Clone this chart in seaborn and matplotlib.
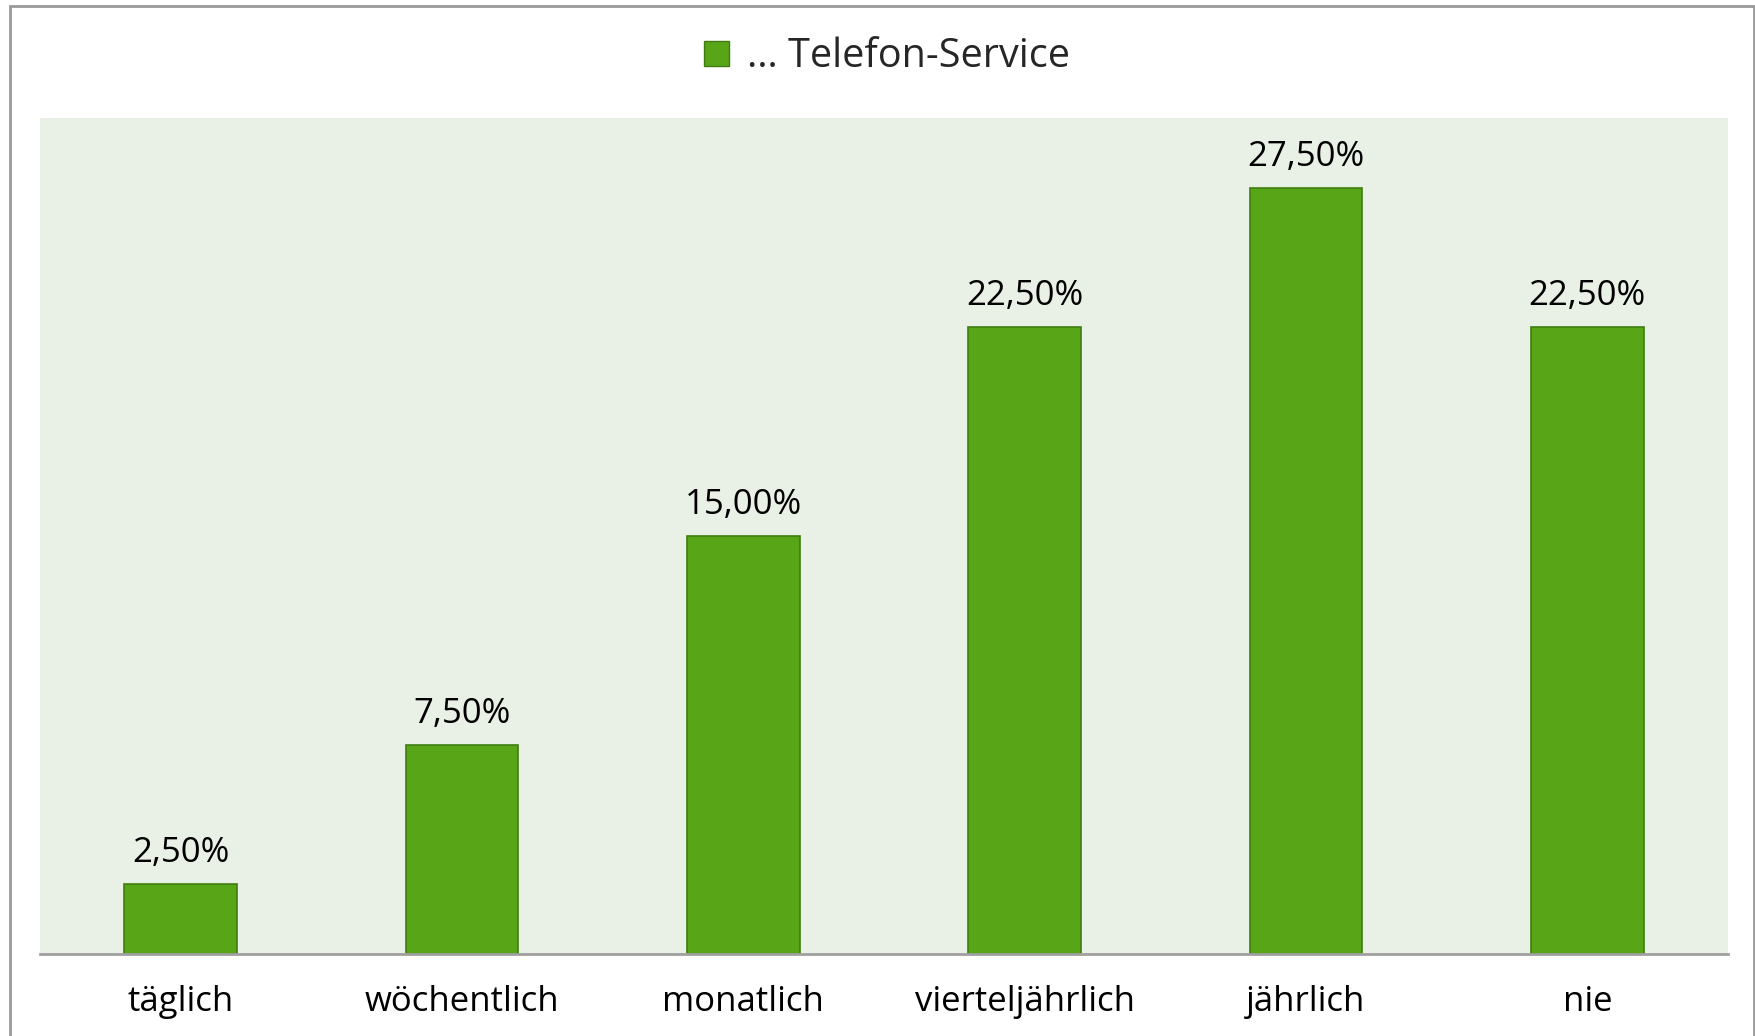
import matplotlib
matplotlib.use("Agg")
import matplotlib.pyplot as plt
import seaborn as sns
import pandas as pd
from matplotlib.patches import Rectangle
from matplotlib.lines import Line2D

categories = ["täglich", "wöchentlich", "monatlich", "vierteljährlich", "jährlich", "nie"]
values = [2.5, 7.5, 15.0, 22.5, 27.5, 22.5]
series_name = "… Telefon-Service"

sns.set_theme(style="white")
plt.rcParams['font.family'] = ['Open Sans', 'DejaVu Sans']

df = pd.DataFrame({"cat": categories, "val": values})

fig = plt.figure(figsize=(17.56, 10.36), dpi=100)
ax = fig.add_axes([40/1756, 1-954/1036, (1728-40)/1756, (954-118)/1036])
ax.set_facecolor("#e9f0e6")

bar_color = "#58a618"
sns.barplot(data=df, x="cat", y="val", color=bar_color, width=0.40,
            edgecolor="#3f7d10", linewidth=1.2, saturation=1, ax=ax)

ax.set_ylim(0, 30)
ax.set_xlim(-0.5, len(categories) - 0.5)
ax.set_xlabel("")
ax.set_ylabel("")
ax.set_yticks([])
for s in ["top", "left", "right"]:
    ax.spines[s].set_visible(False)
ax.spines["bottom"].set_color("#a0a0a0")
ax.spines["bottom"].set_linewidth(2)
ax.tick_params(axis="x", length=0, pad=22, labelsize=25, labelcolor="black")

for i, v in enumerate(values):
    ax.annotate(f"{v:.2f}".replace(".", ",") + "%", (i, v), xytext=(0, 10),
                textcoords="offset points", ha="center", va="bottom",
                fontsize=25, color="black")

handle = Line2D([], [], marker="s", linestyle="none", markersize=18,
                markerfacecolor=bar_color, markeredgecolor="#3f7d10", markeredgewidth=1)
fig.legend([handle], [series_name], loc="center", bbox_to_anchor=(0.503, 0.945),
           frameon=False, fontsize=28.5, handletextpad=0.3, handlelength=1.0)

# outer frame
fig.patches.append(Rectangle((10/1756, -0.01), (1754-10)/1756, 1.01 - 6/1036,
                             transform=fig.transFigure, fill=False,
                             edgecolor="#999999", linewidth=2))

fig.savefig("out.png", dpi=100)
